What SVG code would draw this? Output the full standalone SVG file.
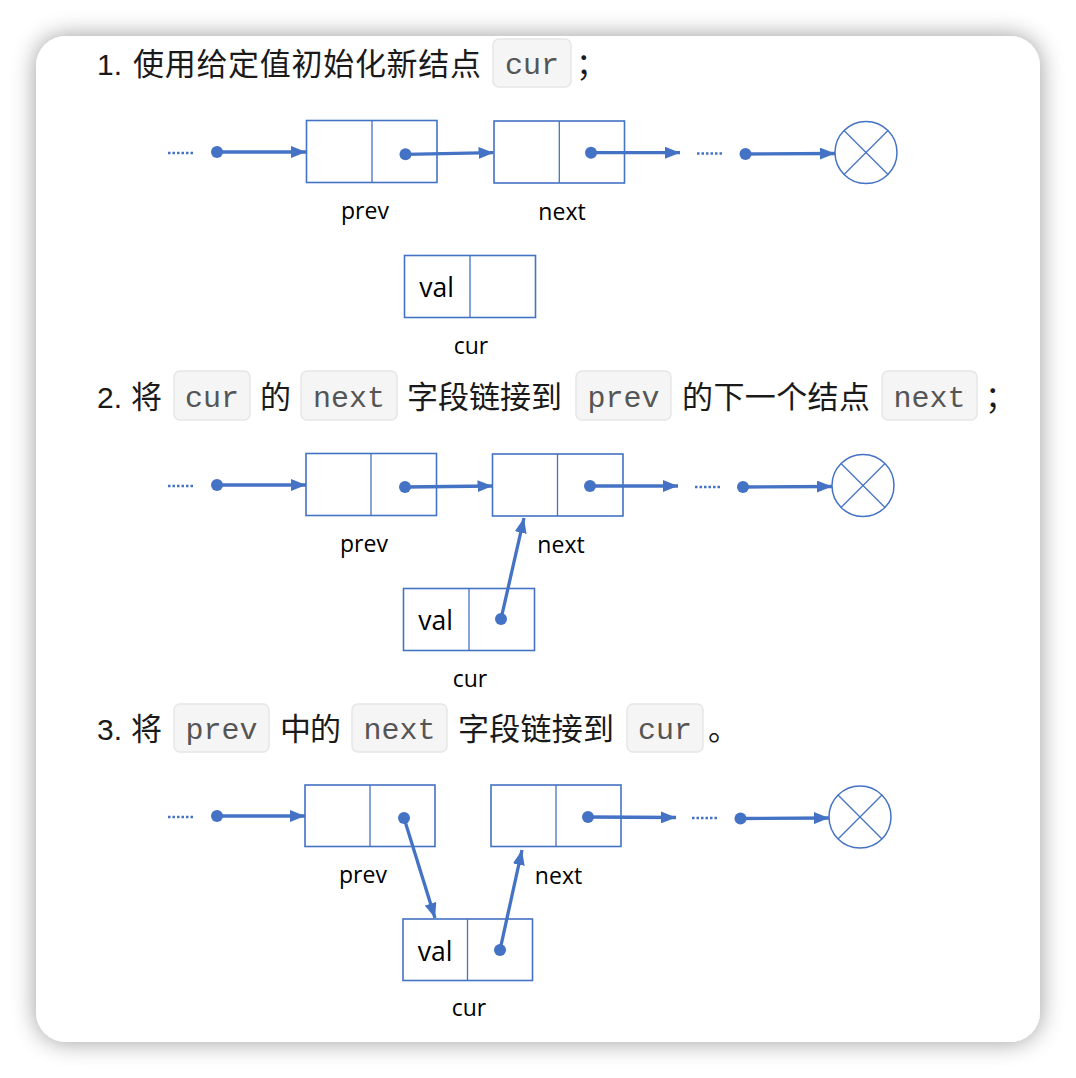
<svg xmlns="http://www.w3.org/2000/svg" width="1076" height="1078" viewBox="0 0 1076 1078">
<defs>
<filter id="sh" x="-10%" y="-10%" width="120%" height="120%">
<feGaussianBlur in="SourceAlpha" stdDeviation="12"/>
<feComponentTransfer><feFuncA type="linear" slope="0.4"/></feComponentTransfer>
<feMerge><feMergeNode/><feMergeNode in="SourceGraphic"/></feMerge>
</filter>
<marker id="ah" markerUnits="userSpaceOnUse" markerWidth="15" markerHeight="12" refX="15" refY="6" orient="auto">
<path d="M0,0 L15,6 L0,12 z" fill="#4472C4"/>
</marker>
<style>
.h{font-family:"Liberation Sans","Noto Sans CJK SC",sans-serif;font-size:30px;fill:#1a1a1a}
.cj{font-family:"Noto Sans CJK SC",sans-serif;font-size:31px;fill:#1a1a1a}
.cb{fill:#f5f5f5;stroke:#e6e6e6;stroke-width:1.5}
.ct{font-family:"Liberation Mono",monospace;font-size:30px;fill:#555;text-anchor:middle}
.nr{fill:#fff;stroke:#4472C4;stroke-width:1.6}
.dv{stroke:#4472C4;stroke-width:1.3}
.lb{font-family:"Open Sans",sans-serif;font-size:23px;fill:#000;text-anchor:middle}
.vl{font-family:"Open Sans",sans-serif;font-size:26.5px;fill:#000;text-anchor:middle}
.ar{stroke:#4472C4;stroke-width:3.3;fill:none;marker-end:url(#ah)}
.dot{fill:#4472C4}
.dt{stroke:#4472C4;stroke-width:2.5;stroke-dasharray:2.5 2;fill:none}
.nl{fill:#fff;stroke:#4472C4;stroke-width:1.5}
</style>
</defs>
<rect width="1076" height="1078" fill="#fff"/>
<rect x="36" y="36" width="1004" height="1006" rx="30" fill="#fff" filter="url(#sh)"/>

<g id="heading1">
<text class="h" x="97" y="75">1.</text>
<text class="cj" x="133" y="75" textLength="348" lengthAdjust="spacing">使用给定值初始化新结点</text>
<rect class="cb" x="493" y="39" width="78" height="48" rx="6"/>
<text class="ct" x="532" y="74">cur</text>
<text class="cj" x="576" y="75">；</text>
</g>
<g id="heading2">
<text class="h" x="97" y="408">2.</text>
<text class="cj" x="131" y="408">将</text>
<rect class="cb" x="174" y="371" width="76" height="49" rx="6"/>
<text class="ct" x="212" y="407">cur</text>
<text class="cj" x="260" y="408">的</text>
<rect class="cb" x="301" y="371" width="96" height="49" rx="6"/>
<text class="ct" x="349" y="407">next</text>
<text class="cj" x="407" y="408" textLength="155" lengthAdjust="spacing">字段链接到</text>
<rect class="cb" x="576" y="371" width="95" height="49" rx="6"/>
<text class="ct" x="623.5" y="407">prev</text>
<text class="cj" x="682" y="408" textLength="188" lengthAdjust="spacing">的下一个结点</text>
<rect class="cb" x="882" y="371" width="95" height="49" rx="6"/>
<text class="ct" x="929.5" y="407">next</text>
<text class="cj" x="985" y="408">；</text>
</g>
<g id="heading3">
<text class="h" x="97" y="740">3.</text>
<text class="cj" x="131" y="740">将</text>
<rect class="cb" x="174" y="704" width="95" height="48" rx="6"/>
<text class="ct" x="221.5" y="739">prev</text>
<text class="cj" x="280" y="740" textLength="61" lengthAdjust="spacing">中的</text>
<rect class="cb" x="352" y="704" width="95" height="48" rx="6"/>
<text class="ct" x="399.5" y="739">next</text>
<text class="cj" x="458" y="740" textLength="156" lengthAdjust="spacing">字段链接到</text>
<rect class="cb" x="627" y="704" width="76" height="48" rx="6"/>
<text class="ct" x="665" y="739">cur</text>
<text class="cj" x="708" y="740">。</text>
</g>

<!-- Section 1 nodes -->
<g id="s1-prev"><rect class="nr" x="306.5" y="120.5" width="130.5" height="62"/><line class="dv" x1="372" y1="120.5" x2="372" y2="182.5"/><text class="lb" x="365" y="219">prev</text></g>
<g id="s1-next"><rect class="nr" x="494" y="121" width="130.5" height="62"/><line class="dv" x1="559.3" y1="121" x2="559.3" y2="183"/><text class="lb" x="562" y="220">next</text></g>
<g id="s1-null"><circle class="nl" cx="866" cy="152.5" r="31"/><line class="dv" x1="844" y1="130.5" x2="888" y2="174.5"/><line class="dv" x1="888" y1="130.5" x2="844" y2="174.5"/></g>
<g id="s1-cur"><rect class="nr" x="404.5" y="255.5" width="131" height="62"/><line class="dv" x1="470" y1="255.5" x2="470" y2="317.5"/><text class="vl" x="436.5" y="297">val</text><text class="lb" x="471" y="354">cur</text></g>

<!-- Section 2 nodes -->
<g id="s2-prev"><rect class="nr" x="306" y="453.5" width="130.5" height="62"/><line class="dv" x1="371" y1="453.5" x2="371" y2="515.5"/><text class="lb" x="364" y="552">prev</text></g>
<g id="s2-next"><rect class="nr" x="492.5" y="454" width="130.5" height="62"/><line class="dv" x1="557.5" y1="454" x2="557.5" y2="516"/><text class="lb" x="561" y="553">next</text></g>
<g id="s2-null"><circle class="nl" cx="863" cy="485.5" r="31"/><line class="dv" x1="841" y1="463.5" x2="885" y2="507.5"/><line class="dv" x1="885" y1="463.5" x2="841" y2="507.5"/></g>
<g id="s2-cur"><rect class="nr" x="403.5" y="588.5" width="131" height="62"/><line class="dv" x1="469" y1="588.5" x2="469" y2="650.5"/><text class="vl" x="435.5" y="630">val</text><text class="lb" x="470" y="687">cur</text></g>

<!-- Section 3 nodes -->
<g id="s3-prev"><rect class="nr" x="305" y="785" width="130" height="61.5"/><line class="dv" x1="370" y1="785" x2="370" y2="846.5"/><text class="lb" x="363" y="883">prev</text></g>
<g id="s3-next"><rect class="nr" x="491" y="785" width="130" height="61.5"/><line class="dv" x1="556" y1="785" x2="556" y2="846.5"/><text class="lb" x="558.5" y="884">next</text></g>
<g id="s3-null"><circle class="nl" cx="860" cy="817" r="31"/><line class="dv" x1="838" y1="795" x2="882" y2="839"/><line class="dv" x1="882" y1="795" x2="838" y2="839"/></g>
<g id="s3-cur"><rect class="nr" x="403" y="919" width="129.5" height="61.5"/><line class="dv" x1="467.5" y1="919" x2="467.5" y2="980.5"/><text class="vl" x="435" y="961">val</text><text class="lb" x="469" y="1016">cur</text></g>

<g id="connectors">
<!-- section 1 -->
<line class="dt" x1="168" y1="153" x2="194" y2="153"/>
<circle class="dot" cx="217" cy="152" r="6"/><line class="ar" x1="217" y1="152" x2="306" y2="152"/>
<circle class="dot" cx="405.5" cy="154.3" r="6"/><line class="ar" x1="405.5" y1="154.3" x2="493.5" y2="152.7"/>
<circle class="dot" cx="591" cy="152.7" r="6"/><line class="ar" x1="591" y1="152.7" x2="680" y2="152.7"/>
<line class="dt" x1="697" y1="153.5" x2="723" y2="153.5"/>
<circle class="dot" cx="745.5" cy="154" r="6"/><line class="ar" x1="745.5" y1="154" x2="835" y2="153.5"/>
<!-- section 2 -->
<line class="dt" x1="168" y1="486" x2="194" y2="486"/>
<circle class="dot" cx="217" cy="485" r="6"/><line class="ar" x1="217" y1="485" x2="306" y2="485"/>
<circle class="dot" cx="405" cy="487" r="6"/><line class="ar" x1="405" y1="487" x2="492.5" y2="486"/>
<circle class="dot" cx="590" cy="486" r="6"/><line class="ar" x1="590" y1="486" x2="678" y2="486"/>
<line class="dt" x1="695" y1="487" x2="721" y2="487"/>
<circle class="dot" cx="743" cy="487" r="6"/><line class="ar" x1="743" y1="487" x2="832" y2="486.5"/>
<circle class="dot" cx="501" cy="619" r="6"/><line class="ar" x1="501" y1="619" x2="524" y2="518"/>
<!-- section 3 -->
<line class="dt" x1="168" y1="817" x2="194" y2="817"/>
<circle class="dot" cx="217" cy="816" r="6"/><line class="ar" x1="217" y1="816" x2="305" y2="816"/>
<circle class="dot" cx="404" cy="818" r="6"/><line class="ar" x1="404" y1="818" x2="435" y2="918"/>
<circle class="dot" cx="588" cy="817" r="6"/><line class="ar" x1="588" y1="817" x2="676" y2="817.5"/>
<line class="dt" x1="692" y1="818" x2="718" y2="818"/>
<circle class="dot" cx="740.5" cy="818.5" r="6"/><line class="ar" x1="740.5" y1="818.5" x2="829" y2="818"/>
<circle class="dot" cx="500" cy="950" r="6"/><line class="ar" x1="500" y1="950" x2="522" y2="850"/>
</g>
</svg>
